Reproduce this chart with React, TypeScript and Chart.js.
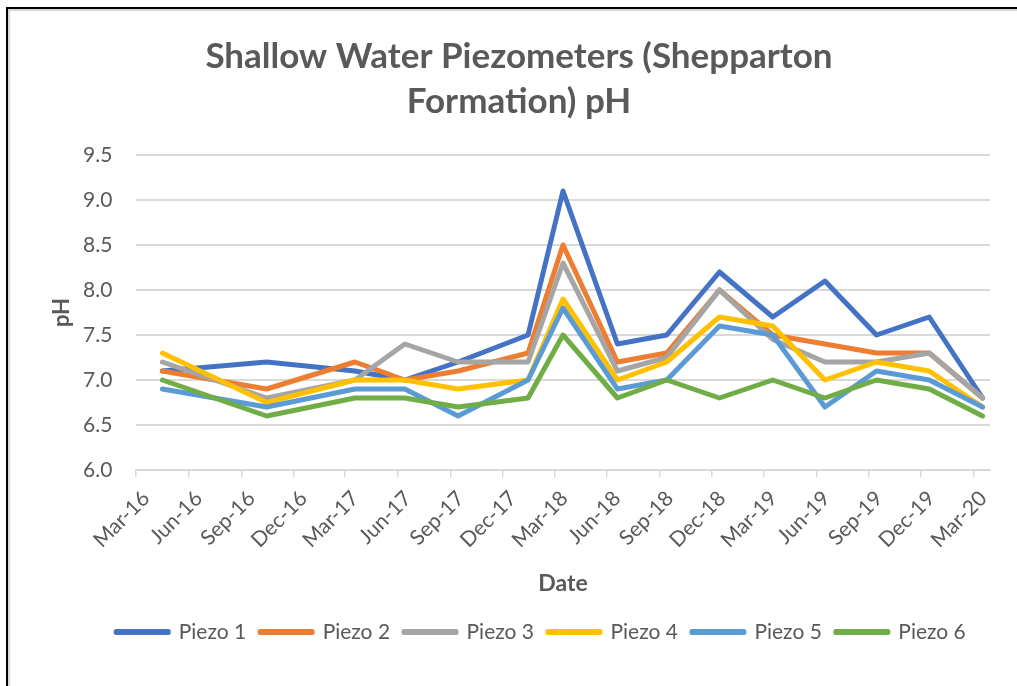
import React, { useEffect, useRef } from 'react';
import { Chart, registerables } from 'chart.js';

Chart.register(...registerables);

// ---- Data ----
const titleLines = ['Shallow Water Piezometers (Shepparton', 'Formation) pH'];
const xAxisTitle = 'Date';
const yAxisTitle = 'pH';

const sampleDates = [
  '2016-04-16', '2016-10-15', '2017-03-18', '2017-06-13', '2017-09-14',
  '2018-01-14', '2018-03-16', '2018-06-19', '2018-09-13', '2018-12-14',
  '2019-03-17', '2019-06-16', '2019-09-14', '2019-12-15', '2020-03-17',
];

const tickLabels = [
  'Mar-16', 'Jun-16', 'Sep-16', 'Dec-16', 'Mar-17', 'Jun-17', 'Sep-17', 'Dec-17',
  'Mar-18', 'Jun-18', 'Sep-18', 'Dec-18', 'Mar-19', 'Jun-19', 'Sep-19', 'Dec-19', 'Mar-20',
];
const xAxisEnd = '2020-03-30';

const seriesNames = ['Piezo 1', 'Piezo 2', 'Piezo 3', 'Piezo 4', 'Piezo 5', 'Piezo 6'];

const piezo1 = [7.1, 7.2, 7.1, 7.0, 7.2, 7.5, 9.1, 7.4, 7.5, 8.2, 7.7, 8.1, 7.5, 7.7, 6.8];
const piezo2 = [7.1, 6.9, 7.2, 7.0, 7.1, 7.3, 8.5, 7.2, 7.3, 8.0, 7.5, 7.4, 7.3, 7.3, 6.8];
const piezo3 = [7.2, 6.8, 7.0, 7.4, 7.2, 7.2, 8.3, 7.1, 7.25, 8.0, 7.45, 7.2, 7.2, 7.3, 6.8];
const piezo4 = [7.3, 6.75, 7.0, 7.0, 6.9, 7.0, 7.9, 7.0, 7.2, 7.7, 7.6, 7.0, 7.2, 7.1, 6.7];
const piezo5 = [6.9, 6.7, 6.9, 6.9, 6.6, 7.0, 7.8, 6.9, 7.0, 7.6, 7.5, 6.7, 7.1, 7.0, 6.7];
const piezo6 = [7.0, 6.6, 6.8, 6.8, 6.7, 6.8, 7.5, 6.8, 7.0, 6.8, 7.0, 6.8, 7.0, 6.9, 6.6];

const seriesValues = [piezo1, piezo2, piezo3, piezo4, piezo5, piezo6];
const seriesColors = ['#4472C4', '#ED7D31', '#A5A5A5', '#FFC000', '#5B9BD5', '#70AD47'];

const yMin = 6.0;
const yMax = 9.5;
const yStep = 0.5;

// ---- helpers ----
const MONTHS = ['Jan', 'Feb', 'Mar', 'Apr', 'May', 'Jun', 'Jul', 'Aug', 'Sep', 'Oct', 'Nov', 'Dec'];
const labelToTime = (lbl: string) => {
  const [m, y] = lbl.split('-');
  return Date.UTC(2000 + parseInt(y, 10), MONTHS.indexOf(m), 1);
};
const tickTimes = tickLabels.map(labelToTime);
const dateToTime = (s: string) => Date.parse(s + 'T00:00:00Z');

const TEXT = '#595959';
const GRID = '#D9D9D9';
const FONT = 'Lato, "Open Sans", sans-serif';

const titlePlugin = {
  id: 'excelTitle',
  afterDraw(chart: any) {
    const ctx = chart.ctx;
    ctx.save();
    ctx.font = `bold 35px ${FONT}`;
    ctx.fillStyle = TEXT;
    ctx.textAlign = 'center';
    ctx.textBaseline = 'middle';
    titleLines.forEach((t, i) => ctx.fillText(t, 519, 57 + i * 45));
    ctx.restore();
  },
};

export default function App() {
  const ref = useRef<HTMLCanvasElement | null>(null);

  useEffect(() => {
    let chart: Chart | null = null;
    let cancelled = false;
    const make = () => {
      if (cancelled || !ref.current) return;
      chart = new Chart(ref.current, {
        type: 'line',
        data: {
          datasets: seriesNames.map((name, i) => ({
            label: name,
            data: sampleDates.map((d, j) => ({ x: dateToTime(d), y: seriesValues[i][j] })),
            borderColor: seriesColors[i],
            backgroundColor: seriesColors[i],
            borderWidth: 5,
            pointRadius: 0,
            pointHoverRadius: 0,
            tension: 0,
            borderJoinStyle: 'round',
            borderCapStyle: 'round',
            order: seriesNames.length - i,
          })),
        },
        options: {
          responsive: false,
          maintainAspectRatio: false,
          animation: false,
          devicePixelRatio: 1,
          layout: { padding: { left: 92, right: 27, top: 155, bottom: 33.5 } },
          plugins: {
            title: { display: false },
            tooltip: { enabled: false },
            legend: {
              display: true,
              position: 'bottom',
              labels: {
                color: TEXT,
                font: { family: FONT, size: 21 },
                boxWidth: 52,
                boxHeight: 1,
                padding: 14,
                sort: (a: any, b: any) => a.datasetIndex - b.datasetIndex,
              },
            },
          },
          scales: {
            x: {
              type: 'linear',
              min: tickTimes[0],
              max: dateToTime(xAxisEnd),
              afterBuildTicks: (scale: any) => {
                scale.ticks = tickTimes.map((v) => ({ value: v }));
              },
              afterFit: (scale: any) => {
                scale.height = 137.5;
              },
              ticks: {
                autoSkip: false,
                minRotation: 45,
                maxRotation: 45,
                padding: 9,
                labelOffset: 10,
                color: TEXT,
                font: { family: FONT, size: 21 },
                callback: (_v: any, i: number) => tickLabels[i],
              },
              grid: {
                display: true,
                drawOnChartArea: false,
                drawTicks: true,
                tickLength: 7,
                color: GRID,
                lineWidth: 1.5,
              },
              border: { display: true, color: GRID, width: 2 },
              title: {
                display: true,
                text: xAxisTitle,
                color: TEXT,
                font: { family: FONT, size: 23, weight: 'bold' },
                padding: { top: 0, bottom: 10.2 },
              },
            },
            y: {
              type: 'linear',
              min: yMin,
              max: yMax,
              afterFit: (scale: any) => {
                scale.width = 44;
              },
              ticks: {
                stepSize: yStep,
                mirror: true,
                crossAlign: 'near',
                padding: -53,
                color: TEXT,
                font: { family: FONT, size: 21 },
                callback: (v: any) => Number(v).toFixed(1),
              },
              grid: { color: GRID, lineWidth: 2, drawTicks: false },
              border: { display: false },
              title: {
                display: true,
                text: yAxisTitle,
                color: TEXT,
                font: { family: FONT, size: 22, weight: 'bold' },
                padding: { top: -43.2, bottom: 0 },
              },
            },
          },
        },
        plugins: [titlePlugin],
      } as any);
    };
    const fontsReady = (document as any).fonts
      ? Promise.all([
          (document as any).fonts.load(`bold 35px Lato`),
          (document as any).fonts.load(`21px Lato`),
        ]).catch(() => null)
      : Promise.resolve(null);
    fontsReady.then(make);
    return () => {
      cancelled = true;
      if (chart) chart.destroy();
    };
  }, []);

  return (
    <>
      <div
        style={{
          position: 'fixed',
          left: 6,
          top: 7,
          width: 1100,
          height: 800,
          borderLeft: '2px solid #000',
          borderTop: '2px solid #000',
          boxShadow: 'inset 2px 2px 1px #d6d6d6',
          background: '#fff',
        }}
      />
      <canvas
        ref={ref}
        width={1017}
        height={686}
        style={{ position: 'fixed', left: 0, top: 0, display: 'block' }}
      />
    </>
  );
}
